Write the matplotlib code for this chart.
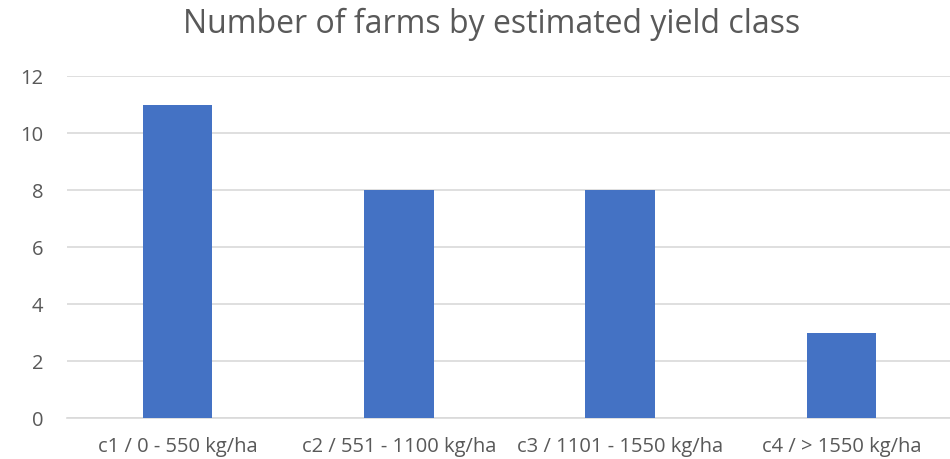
import matplotlib
matplotlib.use("Agg")
import matplotlib.pyplot as plt

categories = ["c1 / 0 - 550 kg/ha", "c2 / 551 - 1100 kg/ha",
              "c3 / 1101 - 1550 kg/ha", "c4 / > 1550 kg/ha"]
farm_counts = [11, 8, 8, 3]
y_ticks = [0, 2, 4, 6, 8, 10, 12]

plt.rcParams["font.family"] = ["Open Sans", "DejaVu Sans"]
text_color = "#595959"

fig = plt.figure(figsize=(9.5, 4.6), dpi=100)
ax = fig.add_axes([67 / 950, 41 / 460, 885 / 950, 342 / 460])

x = range(len(categories))
ax.bar(x, farm_counts, width=0.315, color="#4472C4", zorder=3)

ax.set_xlim(-0.5, len(categories) - 0.5)
ax.set_ylim(0, 12)
ax.set_yticks(y_ticks)
ax.set_yticklabels([str(v) for v in y_ticks])
ax.set_xticks(list(x))
ax.set_xticklabels(categories)

ax.yaxis.grid(True, color="#D9D9D9", linewidth=1.2, zorder=0)
for side in ("top", "right", "left"):
    ax.spines[side].set_visible(False)
ax.spines["bottom"].set_color("#D9D9D9")
ax.spines["bottom"].set_linewidth(1.2)
ax.tick_params(axis="both", length=0, colors=text_color, labelsize=14.5)
ax.tick_params(axis="y", pad=17)
ax.tick_params(axis="x", pad=13)

fig.text(0.517, 0.948, "Number of farms by estimated yield class",
         ha="center", va="center", fontsize=23, color=text_color)

fig.savefig("out.png", dpi=100, facecolor="white")
